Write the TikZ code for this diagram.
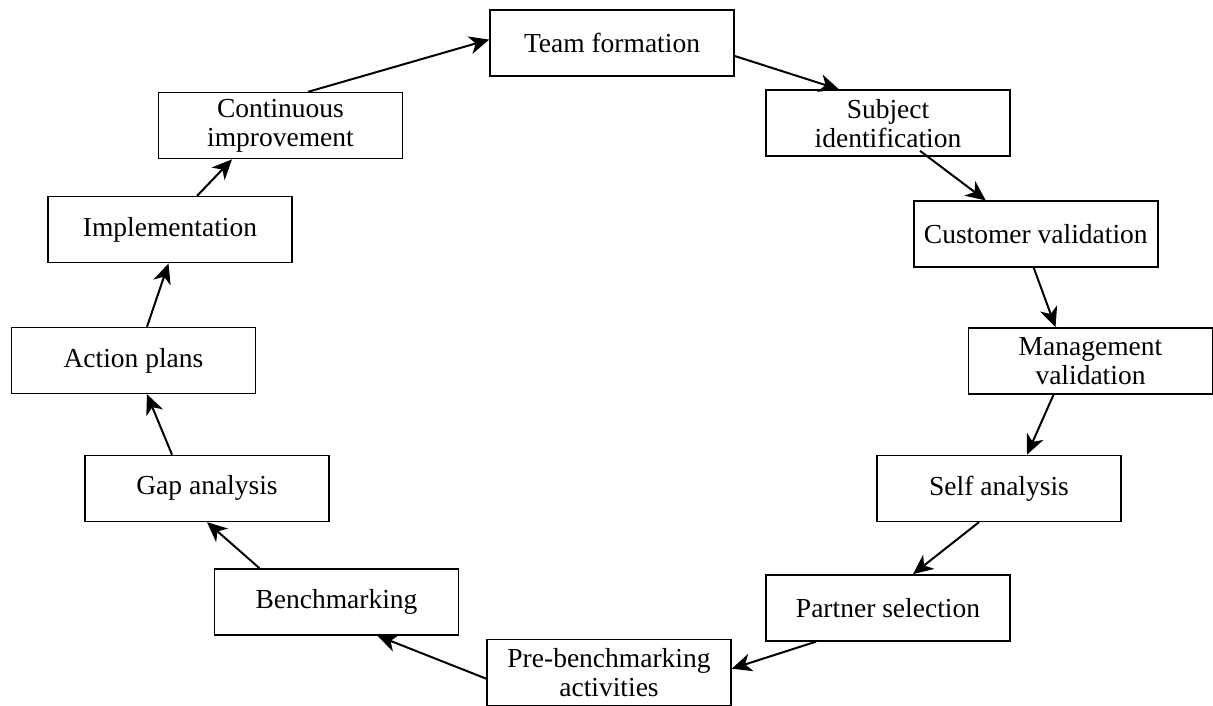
\documentclass[tikz,border=0pt]{standalone}
\usepackage{fontspec}
\setmainfont{Liberation Serif}
\usetikzlibrary{arrows.meta}
\begin{document}
\begin{tikzpicture}[x=1pt,y=-1pt,
  stagebox/.style={draw=black,line width=1.5pt,fill=white,minimum width=244pt,minimum height=66pt,
    inner sep=0pt,align=center,font=\fontsize{27.5}{29}\selectfont},
  flow/.style={line width=2pt,-{Stealth[length=20pt,width=18pt,inset=6pt]}}]
\useasboundingbox (0,0) rectangle (1213,706);
\node[stagebox] (team)   at (612,43.2)   {Team formation};
\node[stagebox] (subj)   at (888,123.1)  {\raisebox{-4pt}{Subject}\\\raisebox{-4pt}{identification}};
\node[stagebox] (cust)   at (1035.8,234.2) {Customer validation};
\node[stagebox] (mgmt)   at (1090.5,361) {\raisebox{-4pt}{Management}\\\raisebox{-4pt}{validation}};
\node[stagebox] (self)   at (999,488.4)  {Self analysis};
\node[stagebox] (part)   at (888,607.9)  {Partner selection};
\node[stagebox] (pre)    at (609,672.7)  {\raisebox{-4pt}{Pre-benchmarking}\\\raisebox{-4pt}{activities}};
\node[stagebox] (bench)  at (336.5,602)  {Benchmarking};
\node[stagebox] (gap)    at (207,488.4)  {Gap analysis};
\node[stagebox] (action) at (133.5,360.5) {Action plans};
\node[stagebox] (impl)   at (170,229.7)  {Implementation};
\node[stagebox] (cont)   at (280.5,125.6) {\raisebox{-4pt}{Continuous}\\\raisebox{-4pt}{improvement}};
\draw[flow] ([xshift=27.5pt]cont.north) -- ([yshift=3.6pt]team.west);
\draw[flow] ([yshift=-12.8pt]team.east) -- ([xshift=-49pt]subj.north);
\draw[flow] ([xshift=32pt,yshift=6pt]subj.south) -- ([xshift=-50pt]cust.north);
\draw[flow] ([xshift=-2pt]cust.south) -- ([xshift=-35pt]mgmt.north);
\draw[flow] ([xshift=-37pt]mgmt.south) -- ([xshift=28pt]self.north);
\draw[flow] ([xshift=-20pt]self.south) -- ([xshift=25pt]part.north);
\draw[flow] ([xshift=-72pt]part.south) -- ([yshift=4pt]pre.east);
\draw[flow] ([yshift=-6pt]pre.west) -- ([xshift=41pt]bench.south);
\draw[flow] ([xshift=-77pt]bench.north) -- (gap.south);
\draw[flow] ([xshift=-35pt]gap.north) -- ([xshift=13.5pt]action.south);
\draw[flow] ([xshift=13.5pt]action.north) -- ([xshift=-1.5pt]impl.south);
\draw[flow] ([xshift=27pt]impl.north) -- ([xshift=-48.5pt]cont.south);
\end{tikzpicture}
\end{document}
